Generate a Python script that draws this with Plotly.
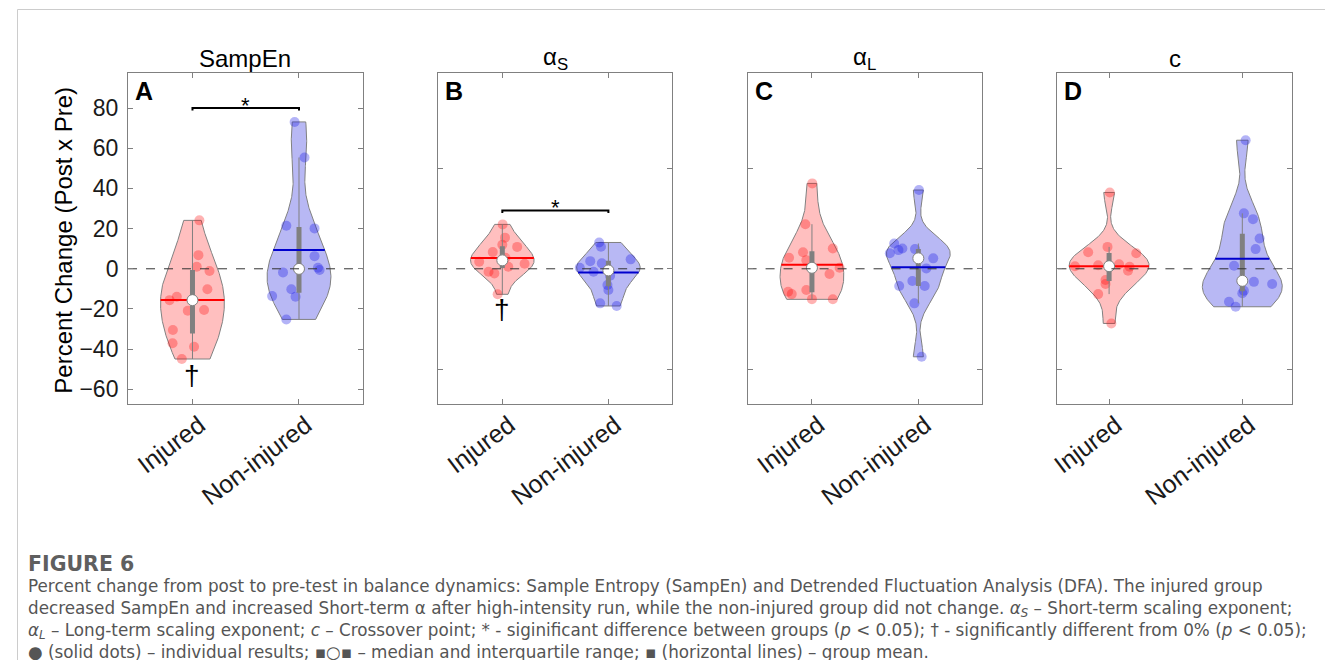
import numpy as np
import plotly.graph_objects as go

W, H = 1333, 660

# ---------------- data ----------------
groups = ["Injured", "Non-injured"]
titles = ["SampEn", "α<sub>S</sub>", "α<sub>L</sub>", "c"]
letters = ["A", "B", "C", "D"]
y_ticks_a = [-60, -40, -20, 0, 20, 40, 60, 80]
y_ticks_other = [-50, 0, 50]

sampen_inj = [24.1, 6.8, 1.0, -1.1, -10.2, -13.9, -15.6, -20.9, -20.5, -30.5, -37.1, -38.8, -44.9]
sampen_inj_jit = [0.065, 0.056, 0.04, 0.16, 0.14, -0.147, -0.215, -0.044, 0.109, -0.184, -0.187, 0.015, -0.1]
sampen_non = [73.1, 55.4, 21.4, 20.1, 6.3, -1.8, -0.6, 0.5, -10.2, -13.9, -13.6, -25.2]
sampen_non_jit = [-0.041, 0.052, -0.119, 0.146, 0.146, -0.15, 0.193, 0.178, -0.072, -0.032, -0.252, -0.119]

as_inj = [22.1, 15.5, 12.0, 10.9, 8.3, 5.5, 4.2, 3.5, 2.5, 1.0, -1.5, -2.3, -12.7]
as_inj_jit = [0.003, 0.025, 0.0, 0.14, -0.09, 0.03, 0.0, -0.218, 0.21, 0.056, -0.13, -0.075, -0.044]
as_non = [13.1, 11.0, 4.7, 3.8, 2.7, 0.5, -0.8, -1.5, -3.5, -8.1, -10.6, -17.2, -18.5]
as_non_jit = [-0.087, -0.07, 0.21, -0.171, -0.062, -0.27, 0.0, -0.14, 0.016, -0.009, 0.0, -0.078, 0.078]

al_inj = [42.5, 22.2, 10.1, 8.2, 5.5, 4.3, 0.5, -2.6, -10.6, -11.4, -12.6, -15.1, -15.2]
al_inj_jit = [0.003, -0.062, 0.196, -0.084, -0.215, -0.053, 0.26, 0.165, -0.053, -0.224, -0.19, 0.0, 0.196]
al_non = [39.2, 12.6, 10.1, 9.3, 7.7, 9.8, 5.2, 0.2, -8.6, -6.1, -8.6, -17.2, -43.8]
al_non_jit = [0.006, -0.227, -0.15, -0.187, -0.268, -0.031, 0.14, 0.075, -0.18, -0.056, 0.06, -0.037, 0.031]

c_inj = [38.0, 10.9, 8.2, 7.7, 2.3, 1.8, 1.3, 1.0, -1.0, -5.6, -7.6, -12.6, -27.2]
c_inj_jit = [0.005, -0.012, -0.157, 0.204, 0.075, -0.082, -0.256, 0.154, 0.142, -0.027, -0.027, -0.082, 0.017]
c_non = [64.0, 27.6, 24.7, 15.1, 9.8, 1.5, -6.0, -6.5, -7.6, -10.9, -12.2, -16.4, -18.9]
c_non_jit = [0.025, 0.012, 0.08, 0.13, 0.1, -0.062, 0.0, 0.087, 0.224, 0.012, 0.0, -0.1, -0.05]

# significance marks: (panel index, bracket height)
sig_brackets = [(0, 80), (1, 29)]
# dagger marks: (panel index, group position, y value)
daggers = [(0, 1, -53), (1, 1, -20.5)]

panels = [
    (sampen_inj, sampen_inj_jit, sampen_non, sampen_non_jit),
    (as_inj, as_inj_jit, as_non, as_non_jit),
    (al_inj, al_inj_jit, al_non, al_non_jit),
    (c_inj, c_inj_jit, c_non, c_non_jit),
]

caption_title = "FIGURE 6"
caption_lines = [
    "Percent change from post to pre-test in balance dynamics: Sample Entropy (SampEn) and Detrended Fluctuation Analysis (DFA). The injured group",
    "decreased SampEn and increased Short-term α after high-intensity run, while the non-injured group did not change. <i>α<sub>S</sub></i> – Short-term scaling exponent;",
    "<i>α<sub>L</sub></i> – Long-term scaling exponent; <i>c</i> – Crossover point; * - siginificant difference between groups (<i>p</i> &lt; 0.05); † - significantly different from 0% (<i>p</i> &lt; 0.05);",
    "● (solid dots) – individual results; ▪○▪ – median and interquartile range; ▪ (horizontal lines) – group mean.",
]

# ---------------- layout geometry ----------------
OFF = 8  # page body margin of the html page


def px(x):
    return (x - OFF) / W


def py(y):
    return 1 - (y - OFF) / H


x_dom = [(120.7, 357.0), (432.7, 668.0), (744.0, 980.0), (1055.7, 1291.7)]
y_dom = (72.5, 404.0)
x_ranges = [[0.395, 2.6], [0.395, 2.6], [0.395, 2.6], [0.612, 2.373]]
y_range = [-67.3, 97.7]

fills = ["rgba(255,0,0,0.25)", "rgba(20,20,220,0.30)"]
dots = ["rgba(255,0,0,0.30)", "rgba(20,20,230,0.32)"]
means = ["#FF0000", "#0000CD"]
GRAY = "#808080"


def kde(data):
    x = np.asarray(data, float)
    n = len(x)
    sig = np.median(np.abs(x - np.median(x))) / 0.6745
    if sig <= 0:
        sig = x.max() - x.min()
    bw = sig * (4.0 / (3.0 * n)) ** 0.2
    grid = np.linspace(x.min(), x.max(), 200)
    dens = np.exp(-0.5 * ((grid[:, None] - x[None, :]) / bw) ** 2).sum(axis=1)
    half = 0.3 * dens / dens.max()
    return grid, half


fig = go.Figure()

for i, (inj, inj_j, non, non_j) in enumerate(panels):
    xa = "x" if i == 0 else f"x{i+1}"
    ya = "y" if i == 0 else f"y{i+1}"
    lo, hi = x_ranges[i]
    for g, (vals, jit) in enumerate([(inj, inj_j), (non, non_j)]):
        pos = g + 1
        v = np.asarray(vals, float)
        grid, half = kde(v)
        vx = np.concatenate([pos + half, (pos - half)[::-1], [pos + half[0]]])
        vy = np.concatenate([grid, grid[::-1], [grid[0]]])
        fig.add_trace(go.Scatter(x=vx, y=vy, fill="toself", fillcolor=fills[g],
                                 line=dict(color=GRAY, width=1), mode="lines",
                                 hoverinfo="skip", showlegend=False, xaxis=xa, yaxis=ya))
        fig.add_trace(go.Scatter(x=pos + np.asarray(jit), y=v, mode="markers",
                                 marker=dict(size=10, color=dots[g], line=dict(width=0)),
                                 showlegend=False, xaxis=xa, yaxis=ya))
        q1, med, q3 = np.quantile(v, [0.25, 0.5, 0.75], method="hazen")
        iqr = q3 - q1
        lw = v[v > q1 - 1.5 * iqr].min()
        uw = v[v < q3 + 1.5 * iqr].max()
        fig.add_trace(go.Scatter(x=[pos, pos], y=[lw, uw], mode="lines",
                                 line=dict(color=GRAY, width=1), showlegend=False,
                                 xaxis=xa, yaxis=ya))
        fig.add_trace(go.Scatter(x=[pos, pos], y=[q1, q3], mode="lines",
                                 line=dict(color=GRAY, width=5), showlegend=False,
                                 xaxis=xa, yaxis=ya))
        m = v.mean()
        hm = np.interp(m, grid, half)
        fig.add_trace(go.Scatter(x=[pos - hm, pos + hm], y=[m, m], mode="lines",
                                 line=dict(color=means[g], width=2), showlegend=False,
                                 xaxis=xa, yaxis=ya))
        fig.add_trace(go.Scatter(x=[pos], y=[med], mode="markers",
                                 marker=dict(size=11, color="white", line=dict(color=GRAY, width=1)),
                                 showlegend=False, xaxis=xa, yaxis=ya))
    # zero line
    fig.add_trace(go.Scatter(x=[lo, hi], y=[0, 0], mode="lines",
                             line=dict(color="#333333", width=1, dash="dash"),
                             showlegend=False, xaxis=xa, yaxis=ya))

for (pi, yb) in sig_brackets:
    xa = "x" if pi == 0 else f"x{pi+1}"
    ya = "y" if pi == 0 else f"y{pi+1}"
    fig.add_trace(go.Scatter(x=[1, 1, 2, 2], y=[yb - 1.2, yb, yb, yb - 1.2], mode="lines",
                             line=dict(color="black", width=2), showlegend=False,
                             xaxis=xa, yaxis=ya))
    fig.add_annotation(x=1.5, y=yb + 1.5, xref=xa, yref=ya, text="*", showarrow=False,
                       xanchor="center", yanchor="middle",
                       font=dict(family="Liberation Sans", size=22, color="black"))

for (pi, gx, yv) in daggers:
    xa = "x" if pi == 0 else f"x{pi+1}"
    ya = "y" if pi == 0 else f"y{pi+1}"
    fig.add_annotation(x=gx, y=yv, xref=xa, yref=ya, text="†", showarrow=False,
                       xanchor="center", yanchor="middle",
                       font=dict(family="Liberation Sans", size=28, color="black"))

layout = dict(width=W, height=H, margin=dict(l=0, r=0, t=0, b=0),
              paper_bgcolor="white", plot_bgcolor="white", showlegend=False)
for i in range(4):
    xk = "xaxis" if i == 0 else f"xaxis{i+1}"
    yk = "yaxis" if i == 0 else f"yaxis{i+1}"
    layout[xk] = dict(domain=[px(x_dom[i][0]), px(x_dom[i][1])], range=x_ranges[i],
                      tickvals=[1, 2], ticktext=groups, tickangle=-37,
                      ticklabelshift=7, ticklabelstandoff=-4,
                      ticks="inside", ticklen=5, tickcolor=GRAY, mirror="ticks",
                      showline=True, linecolor=GRAY, linewidth=1, showgrid=False,
                      zeroline=False, anchor="y" if i == 0 else f"y{i+1}",
                      tickfont=dict(family="Liberation Sans", size=25, color="#1a1a1a"))
    layout[yk] = dict(domain=[py(y_dom[1]), py(y_dom[0])], range=y_range,
                      tickvals=y_ticks_a if i == 0 else y_ticks_other,
                      showticklabels=(i == 0), ticklabelstandoff=4,
                      ticks="inside", ticklen=5, tickcolor=GRAY, mirror="ticks",
                      showline=True, linecolor=GRAY, linewidth=1, showgrid=False,
                      zeroline=False, anchor="x" if i == 0 else f"x{i+1}",
                      tickfont=dict(family="Liberation Sans", size=23, color="#1a1a1a"))
fig.update_layout(**layout)

# panel titles and letters
for i in range(4):
    cx = (x_dom[i][0] + x_dom[i][1]) / 2
    fig.add_annotation(x=px(cx), y=py(58), xref="paper", yref="paper", text=titles[i],
                       showarrow=False, xanchor="center", yanchor="middle",
                       font=dict(family="Liberation Sans", size=24, color="black"))
    fig.add_annotation(x=px(x_dom[i][0] + 5), y=py(91), xref="paper", yref="paper",
                       text=f"<b>{letters[i]}</b>", showarrow=False, xanchor="left", yanchor="middle",
                       font=dict(family="Liberation Sans", size=25, color="black"))

fig.add_annotation(x=px(55), y=py(240), xref="paper", yref="paper",
                   text="Percent Change (Post x Pre)", textangle=-90, showarrow=False,
                   xanchor="center", yanchor="middle",
                   font=dict(family="Liberation Sans", size=24, color="black"))

# page frame
fig.add_shape(type="path", xref="paper", yref="paper",
              path=f"M {px(9.5)} -0.05 L {px(9.5)} {py(9.5)} L {px(1332.5)} {py(9.5)} L {px(1332.5)} -0.05",
              line=dict(color="#cccccc", width=1))

# caption
fig.add_annotation(x=px(18.5), y=py(564), xref="paper", yref="paper", text=f"<b>{caption_title}</b>",
                   showarrow=False, xanchor="left", yanchor="middle",
                   font=dict(family="DejaVu Sans", size=20.5, color="#5f5f5f"))
fig.add_annotation(x=px(18.5), y=py(618.5), xref="paper", yref="paper",
                   text="<br>".join(caption_lines), align="left",
                   showarrow=False, xanchor="left", yanchor="middle",
                   font=dict(family="DejaVu Sans", size=16.8, color="#555555"))

fig.write_html("out.html")
